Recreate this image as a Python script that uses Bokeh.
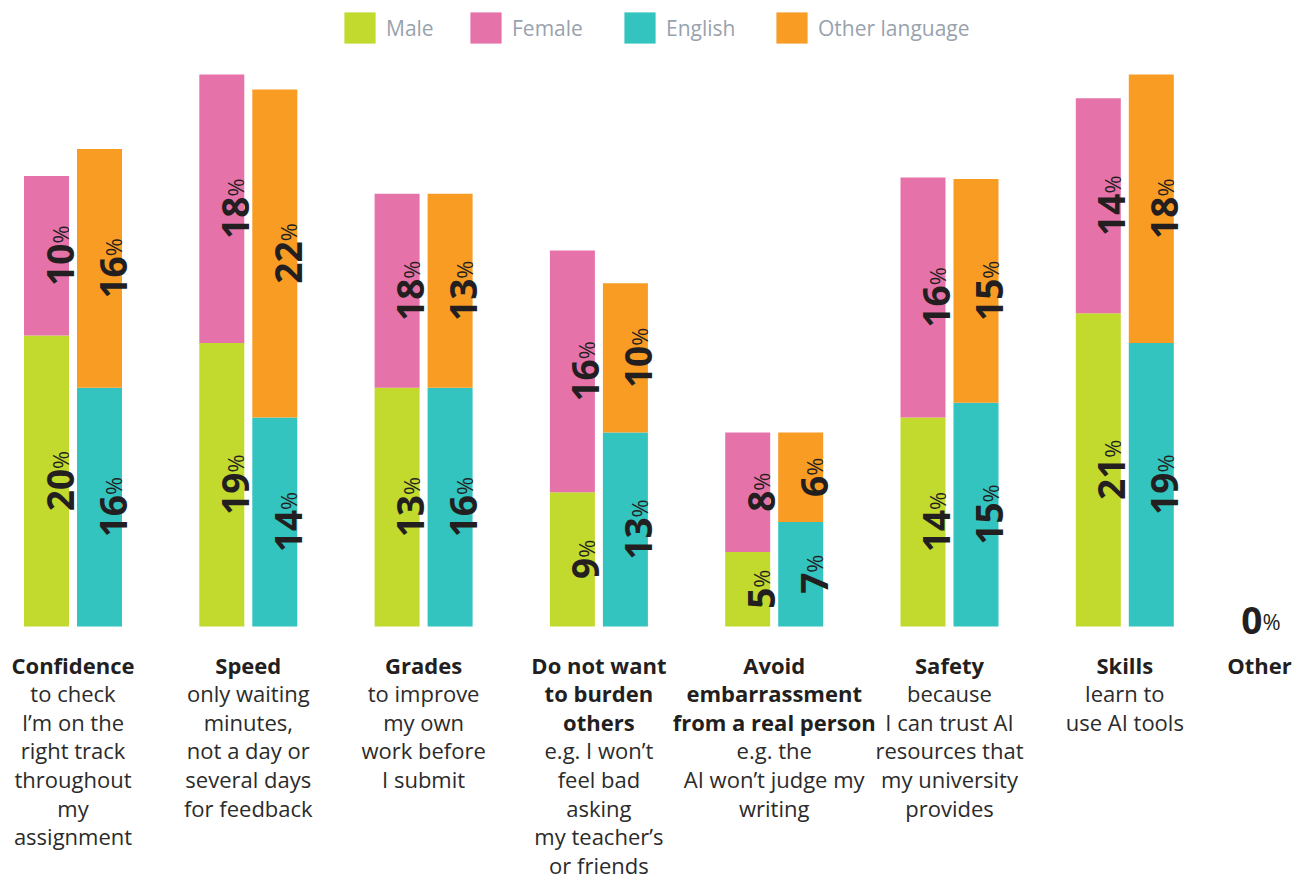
import math
from bokeh.plotting import figure
from bokeh.models import Range1d, ColumnDataSource, Legend, LegendItem
from bokeh.core.properties import value
from bokeh.embed import file_html
from bokeh.resources import INLINE

# ---------------- data ----------------
categories = ["Confidence", "Speed", "Grades", "Do not want to burden others",
              "Avoid embarrassment from a real person", "Safety", "Skills"]
# bar heights (as drawn)
male_h = [19.5, 19, 16, 9, 5, 14, 21]
female_h = [10.7, 18, 13, 16.2, 8, 16.1, 14.4]
english_h = [16, 14, 16, 13, 7, 15, 19]
other_h = [16, 22, 13, 10, 6, 15, 18]
# printed percentage labels
male_lbl = [20, 19, 13, 9, 5, 14, 21]
female_lbl = [10, 18, 18, 16, 8, 16, 14]
english_lbl = [16, 14, 16, 13, 7, 15, 19]
other_lbl = [16, 22, 13, 10, 6, 15, 18]
other_reason_lbl = 0

bold_lines = [["Confidence"], ["Speed"], ["Grades"],
              ["Do not want", "to burden", "others"],
              ["Avoid", "embarrassment", "from a real person"],
              ["Safety"], ["Skills"], ["Other"]]
regular_lines = [["to check", "I\u2019m on the", "right track", "throughout", "my", "assignment"],
                 ["only waiting", "minutes,", "not a day or", "several days", "for feedback"],
                 ["to improve", "my own", "work before", "I submit"],
                 ["e.g. I won\u2019t", "feel bad", "asking", "my teacher\u2019s", "or friends"],
                 ["e.g. the", "AI won\u2019t judge my", "writing"],
                 ["because", "I can trust AI", "resources that", "my university", "provides"],
                 ["learn to", "use AI tools"],
                 []]

series_names = ["Male", "Female", "English", "Other language"]
colors = ["#c2d92e", "#e573aa", "#33c4c0", "#f89c24"]

# ---------------- layout ----------------
W, H = 1300, 881
PX_X = 175.3          # px per category step
PX_Y = 14.92          # px per value unit
BASE = 626            # screen y of the bar baseline
X0 = -72.5 / PX_X
Y0 = -(H - BASE) / PX_Y

n = len(categories)
xs = list(range(n))
x_other = xs[-1] + 0.768
bar_w = 45 / PX_X
off = 26.5 / PX_X

p = figure(width=W, height=H, output_backend="svg", toolbar_location=None,
           x_range=Range1d(X0, X0 + W / PX_X), y_range=Range1d(Y0, Y0 + H / PX_Y),
           x_axis_location=None, y_axis_location=None, min_border=0,
           outline_line_color=None, background_fill_color="white",
           border_fill_color="white")
p.grid.visible = False

left_x = [x - off for x in xs]
right_x = [x + off for x in xs]
male_top = male_h
female_top = [a + b for a, b in zip(male_h, female_h)]
eng_top = english_h
oth_top = [a + b for a, b in zip(english_h, other_h)]

r_m = p.vbar(x=left_x, bottom=0, top=male_top, width=bar_w, fill_color=colors[0], line_color=None)
r_f = p.vbar(x=left_x, bottom=male_top, top=female_top, width=bar_w, fill_color=colors[1], line_color=None)
r_e = p.vbar(x=right_x, bottom=0, top=eng_top, width=bar_w, fill_color=colors[2], line_color=None)
r_o = p.vbar(x=right_x, bottom=eng_top, top=oth_top, width=bar_w, fill_color=colors[3], line_color=None)

# ---------------- value labels ----------------
NUM_FS = 37
PCT_FS = 22
DIG_W, PCT_W = 0.572 * NUM_FS, 0.82 * PCT_FS
nx, ny, nt, nyo = [], [], [], []
segments = [(left_x, [0] * n, male_h, male_lbl),
            (left_x, male_h, female_h, female_lbl),
            (right_x, [0] * n, english_h, english_lbl),
            (right_x, english_h, other_h, other_lbl)]
for sx, bots, hs, lbls in segments:
    for x, b, h, l in zip(sx, bots, hs, lbls):
        nx.append(x)
        ny.append(b + h / 2)
        nt.append(str(l))
        up = (len(str(l)) * DIG_W - PCT_W) / 2
        nyo.append(-up)
src_v = ColumnDataSource(dict(x=nx, y=ny, t=nt, pct=["%"] * len(nt), yo=nyo))
p.text(x="x", y="y", text="t", source=src_v, angle=math.pi / 2, text_align="right",
       text_baseline="alphabetic", x_offset=13.5, y_offset="yo",
       text_font=value("Open Sans"), text_font_style="bold", text_font_size=f"{NUM_FS}px",
       text_color="#231f20")
p.text(x="x", y="y", text="pct", source=src_v, angle=math.pi / 2, text_align="left",
       text_baseline="alphabetic", x_offset=13.5, y_offset="yo",
       text_font=value("Open Sans"), text_font_size=f"{PCT_FS}px", text_color="#231f20")

# "0%" for Other
p.text(x=[x_other], y=[0], text=[str(other_reason_lbl)], text_align="right",
       text_baseline="alphabetic", x_offset=3, y_offset=-6,
       text_font=value("Open Sans"), text_font_style="bold", text_font_size=f"{NUM_FS}px",
       text_color="#231f20")
p.text(x=[x_other], y=[0], text=["%"], text_align="left",
       text_baseline="alphabetic", x_offset=3, y_offset=-6,
       text_font=value("Open Sans"), text_font_size=f"{PCT_FS}px", text_color="#231f20")

# ---------------- category labels ----------------
LINE0, LINE_STEP = 38, 28.6
cat_x = xs + [x_other]
bx, bt, bo, rx, rt, ro = [], [], [], [], [], []
for cx, bl, rl in zip(cat_x, bold_lines, regular_lines):
    for i, t in enumerate(bl):
        bx.append(cx); bt.append(t); bo.append(LINE0 + LINE_STEP * i)
    for j, t in enumerate(rl):
        rx.append(cx); rt.append(t); ro.append(LINE0 + LINE_STEP * (len(bl) + j))
p.text(x="x", y=0, text="t", y_offset="o", source=ColumnDataSource(dict(x=bx, t=bt, o=bo)),
       text_align="center", text_baseline="middle", text_font=value("Open Sans"),
       text_font_style="bold", text_font_size="22px", text_color="#231f20")
p.text(x="x", y=0, text="t", y_offset="o", source=ColumnDataSource(dict(x=rx, t=rt, o=ro)),
       text_align="center", text_baseline="middle", text_font=value("Open Sans"),
       text_font_size="22px", text_color="#2b2b2b")

# ---------------- legend (one entry per block, placed like the reference) ----------------
legend_left = [340, 466, 620, 772]
for nm, r, lx in zip(series_names, [r_m, r_f, r_e, r_o], legend_left):
    lg = Legend(items=[LegendItem(label=nm, renderers=[r])],
                orientation="horizontal", location=(lx, H - 47),
                glyph_width=39, glyph_height=39, label_standoff=7, spacing=0,
                padding=0, margin=0, border_line_color=None, background_fill_alpha=0,
                label_text_font="Open Sans", label_text_font_size="21px",
                label_text_color="#98a2ad", label_height=39)
    p.add_layout(lg)

open("out.html", "w").write(file_html(p, INLINE))
